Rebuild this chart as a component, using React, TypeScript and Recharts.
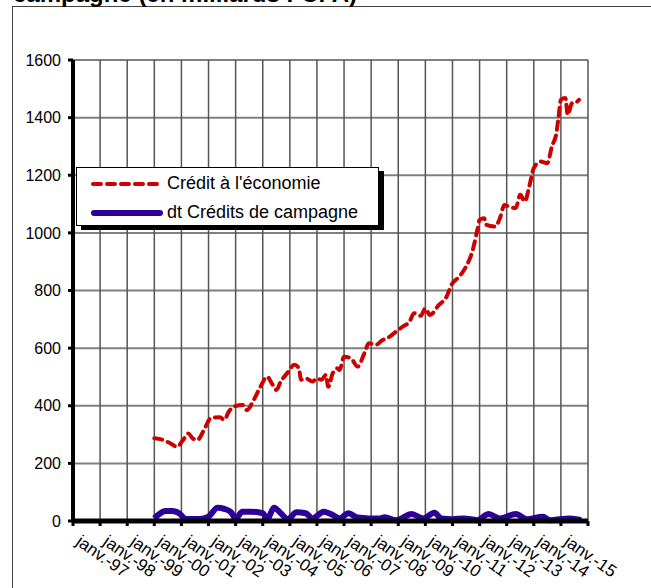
import React from 'react';
import { LineChart, Line, XAxis, YAxis, CartesianGrid, Legend } from 'recharts';

const FONT = '"Liberation Sans", Arial, sans-serif';

// one label per january, 1997 to 2015 (x counted in months from janv.-97)
const xLabels = [
  'janv.-97', 'janv.-98', 'janv.-99', 'janv.-00', 'janv.-01', 'janv.-02', 'janv.-03',
  'janv.-04', 'janv.-05', 'janv.-06', 'janv.-07', 'janv.-08', 'janv.-09', 'janv.-10',
  'janv.-11', 'janv.-12', 'janv.-13', 'janv.-14', 'janv.-15',
];
const xTicks = [0, 12, 24, 36, 48, 60, 72, 84, 96, 108, 120, 132, 144, 156, 168, 180, 192, 204, 216, 228];
const yTicks = [0, 200, 400, 600, 800, 1000, 1200, 1400, 1600];

const creditMonths = [
  36, 40, 43, 46, 49, 51, 53, 55, 58, 61, 65, 67, 69, 72, 75, 77, 80, 83, 86, 88,
  90, 92, 95, 98, 100, 101, 103, 106, 108, 110, 112, 113, 115, 117, 118, 120, 123, 126, 129, 131,
  134, 137, 139, 143, 146, 149, 151, 154, 156, 158, 162, 165, 168, 171, 174, 177, 179, 180, 182, 183,
  187, 189, 191, 193, 196, 198, 200, 202, 204, 207, 210, 212, 214, 215, 216, 218, 219, 221, 222, 224,
];
const creditValues = [
  287, 281, 270, 258, 284, 304, 287, 281, 316, 357, 360, 351, 380, 399, 403, 385, 420, 466, 501, 478,
  455, 484, 515, 542, 530, 490, 495, 484, 495, 490, 507, 466, 513, 530, 524, 570, 565, 536, 582, 617,
  611, 628, 634, 657, 675, 692, 721, 712, 738, 715, 750, 773, 825, 848, 883, 941, 1010, 1045, 1051, 1028,
  1022, 1051, 1097, 1091, 1086, 1132, 1109, 1161, 1225, 1248, 1242, 1300, 1346, 1404, 1462, 1468, 1410, 1450, 1450, 1462,
];

const campagneMonths = [
  36, 41, 44, 47, 50, 56, 60, 64, 67, 70, 72, 75, 79, 84, 86, 89, 92, 95, 99, 103,
  106, 111, 115, 118, 122, 126, 131, 136, 138, 143, 150, 155, 160, 163, 168, 173, 179, 184, 189, 196,
  201, 208, 211, 220, 225,
];
const campagneValues = [
  9, 35, 35, 27, 7, 7, 15, 46, 42, 30, 9, 32, 32, 27, 7, 46, 27, 7, 30, 27,
  9, 32, 21, 9, 27, 12, 9, 9, 13, 3, 24, 9, 29, 9, 6, 9, 3, 24, 9, 24,
  6, 15, 3, 9, 3,
];

const creditData = creditMonths.map((m, i) => ({ m, v: creditValues[i] }));
const campagneData = campagneMonths.map((m, i) => ({ m, v: campagneValues[i] }));

const RED = '#CC0000';
const BLUE = '#2E0099';

const XTick = ({ x, y, payload }: any) => {
  const label = xLabels[payload.value / 12] ?? '';
  return (
    <g transform={`translate(${x + 2},${y + 15})`}>
      <text transform="rotate(35)" textAnchor="start" fontSize={17} fontFamily={FONT} fill="#000">
        {label}
      </text>
    </g>
  );
};

const LegendBox = () => (
  <div
    style={{
      width: 301,
      height: 57,
      background: '#fff',
      border: '1px solid #000',
      boxShadow: '5px 4px 0 #000',
      fontFamily: FONT,
      fontSize: 18,
      color: '#000',
      boxSizing: 'content-box',
    }}
  >
    <div style={{ display: 'flex', alignItems: 'center', height: 29, marginTop: 1 }}>
      <svg width={90} height={10} style={{ flex: 'none' }}>
        <line x1={16} y1={5} x2={84} y2={5} stroke={RED} strokeWidth={4} strokeDasharray="8 6" strokeLinecap="round" />
      </svg>
      <span>Crédit à l'économie</span>
    </div>
    <div style={{ display: 'flex', alignItems: 'center', height: 29 }}>
      <svg width={90} height={10} style={{ flex: 'none' }}>
        <line x1={17} y1={5} x2={83} y2={5} stroke={BLUE} strokeWidth={6} strokeLinecap="round" />
      </svg>
      <span>dt Crédits de campagne</span>
    </div>
  </div>
);

const App: React.FC = () => {
  return (
    <div style={{ position: 'absolute', left: 0, top: 0, width: 651, height: 588, overflow: 'hidden', background: '#fff' }}>
      <div
        style={{
          position: 'absolute',
          left: 12,
          top: 6,
          width: 660,
          height: 600,
          borderLeft: '1px solid #404040',
          borderTop: '1px solid #404040',
        }}
      />
      <div
        style={{
          position: 'absolute',
          left: 13,
          top: -18,
          fontFamily: FONT,
          fontWeight: 'bold',
          fontSize: 24,
          lineHeight: 1,
          whiteSpace: 'nowrap',
        }}
      >
        campagne (en milliards FCFA)
      </div>
      <div style={{ position: 'absolute', left: 0, top: 0 }}>
        <LineChart width={651} height={588} margin={{ top: 60, right: 63, bottom: 0, left: 0 }}>
          <CartesianGrid horizontal={true} vertical={false} stroke="#808080" strokeWidth={2} />
          <CartesianGrid horizontal={false} vertical={true} stroke="#555" strokeWidth={1.5} />
          <XAxis
            type="number"
            dataKey="m"
            domain={[0, 228]}
            ticks={xTicks}
            interval={0}
            height={67}
            tick={<XTick />}
            tickSize={5}
            tickMargin={3}
            axisLine={{ stroke: '#000', strokeWidth: 5 }}
            tickLine={{ stroke: '#000', strokeWidth: 3 }}
            allowDataOverflow
          />
          <YAxis
            type="number"
            domain={[0, 1600]}
            ticks={yTicks}
            interval={0}
            width={73}
            tickSize={5}
            tickMargin={7}
            tick={{ fontSize: 16, fontFamily: FONT, fill: '#000' }}
            axisLine={{ stroke: '#000', strokeWidth: 4 }}
            tickLine={{ stroke: '#000', strokeWidth: 3 }}
          />
          <Legend
            content={<LegendBox />}
            layout="horizontal"
            verticalAlign="middle"
            align="center"
            wrapperStyle={{ left: 76, top: 167, width: 'auto', height: 'auto' }}
          />
          <Line
            data={creditData}
            dataKey="v"
            name="Crédit à l'économie"
            type="monotone"
            stroke={RED}
            strokeWidth={4}
            strokeDasharray="8 6"
            strokeLinecap="round"
            dot={false}
            activeDot={false}
            isAnimationActive={false}
          />
          <Line
            data={campagneData}
            dataKey="v"
            name="dt Crédits de campagne"
            type="monotone"
            stroke={BLUE}
            strokeWidth={6}
            dot={false}
            activeDot={false}
            isAnimationActive={false}
          />
        </LineChart>
      </div>
    </div>
  );
};

export default App;
